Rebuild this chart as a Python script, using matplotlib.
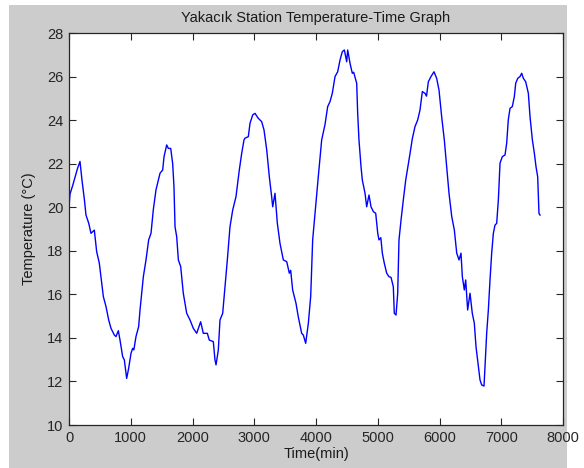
import matplotlib
matplotlib.use("Agg")
import matplotlib.pyplot as plt
from matplotlib.patches import Rectangle

# time (min) and temperature (degC)
time_min = [0, 16, 60, 100, 140, 178, 210, 250, 275, 320, 356, 410, 448, 491, 518,
            556, 600, 643, 680, 734, 761, 799, 826, 869, 896, 934, 966, 1004, 1031,
            1050, 1085, 1128, 1150, 1204, 1247, 1290, 1328, 1366, 1409, 1474, 1517,
            1539, 1582, 1609, 1647, 1679, 1700, 1717, 1744, 1771, 1809, 1851, 1906,
            1960, 2013, 2068, 2132, 2175, 2240, 2272, 2337, 2364, 2381, 2418, 2445,
            2489, 2526, 2564, 2607, 2651, 2704, 2758, 2797, 2834, 2850, 2904, 2931,
            2975, 3012, 3066, 3120, 3158, 3202, 3244, 3282, 3299, 3336, 3374, 3417,
            3471, 3526, 3568, 3590, 3622, 3676, 3713, 3768, 3795, 3833, 3876, 3914,
            3946, 3984, 4037, 4092, 4146, 4189, 4227, 4264, 4308, 4351, 4389, 4426,
            4459, 4497, 4513, 4551, 4588, 4610, 4659, 4675, 4696, 4729, 4750, 4794,
            4821, 4858, 4891, 4929, 4967, 5000, 5020, 5050, 5074, 5106, 5145, 5182,
            5215, 5252, 5268, 5296, 5323, 5344, 5377, 5414, 5453, 5485, 5522, 5560,
            5603, 5647, 5684, 5722, 5765, 5790, 5819, 5862, 5911, 5954, 5992, 6035,
            6078, 6117, 6154, 6198, 6240, 6279, 6316, 6348, 6370, 6402, 6424, 6456,
            6494, 6531, 6564, 6591, 6629, 6656, 6683, 6721, 6737, 6764, 6791, 6818,
            6845, 6872, 6899, 6926, 6953, 6980, 7017, 7061, 7088, 7114, 7142, 7179,
            7212, 7234, 7267, 7304, 7331, 7358, 7396, 7439, 7466, 7504, 7536, 7563,
            7590, 7611, 7628]
temp_c = [20.0, 20.6, 21.0, 21.4, 21.8, 22.1, 21.25, 20.33, 19.64, 19.26, 18.8, 18.95,
          17.96, 17.43, 16.81, 15.9, 15.43, 14.82, 14.44, 14.13, 14.06, 14.33, 13.9,
          13.14, 12.99, 12.14, 12.6, 13.29, 13.52, 13.45, 14.06, 14.52, 15.28, 16.81,
          17.58, 18.5, 18.8, 19.9, 20.8, 21.56, 21.71, 22.32, 22.86, 22.7, 22.7, 22.0,
          20.94, 19.1, 18.65, 17.58, 17.27, 16.05, 15.13, 14.82, 14.44, 14.21, 14.74,
          14.21, 14.21, 13.9, 13.83, 12.99, 12.76, 13.44, 14.82, 15.13, 16.35, 17.58,
          19.1, 19.87, 20.48, 21.71, 22.48, 23.09, 23.17, 23.24, 23.85, 24.24, 24.31,
          24.08, 23.93, 23.55, 22.63, 21.4, 20.48, 20.02, 20.64, 19.26, 18.34, 17.58,
          17.5, 16.97, 17.1, 16.2, 15.59, 14.97, 14.21, 14.13, 13.75, 14.67, 15.9,
          18.5, 19.72, 21.4, 23.09, 23.8, 24.62, 24.85, 25.23, 26.0, 26.22, 26.76,
          27.14, 27.22, 26.68, 27.22, 26.61, 26.15, 26.2, 25.69, 24.31, 23.09, 21.86,
          21.25, 20.64, 20.02, 20.56, 20.02, 19.8, 19.72, 18.8, 18.5, 18.6, 17.89,
          17.43, 16.97, 16.81, 16.78, 16.35, 15.13, 15.05, 16.05, 18.5, 19.41, 20.33,
          21.25, 21.8, 22.45, 23.15, 23.7, 24.01, 24.46, 25.31, 25.23, 25.1, 25.76,
          26.0, 26.22, 25.92, 25.38, 24.16, 23.09, 21.86, 20.64, 19.57, 18.96, 17.89,
          17.58, 17.89, 16.81, 16.2, 16.66, 15.28, 16.05, 15.13, 14.67, 13.6, 12.68,
          12.07, 11.84, 11.79, 12.68, 14.21, 15.28, 16.66, 17.89, 18.8, 19.18, 19.26,
          20.33, 22.02, 22.32, 22.4, 22.94, 24.01, 24.54, 24.62, 25.08, 25.69, 25.92,
          26.0, 26.15, 25.92, 25.76, 25.23, 24.16, 23.09, 22.48, 21.86, 21.4, 19.72,
          19.64]

x_ticks = [0, 1000, 2000, 3000, 4000, 5000, 6000, 7000, 8000]
y_ticks = [10, 12, 14, 16, 18, 20, 22, 24, 26, 28]

plt.rcParams['font.family'] = ['Liberation Sans', 'DejaVu Sans']

fig = plt.figure(figsize=(5.84, 4.68), dpi=100, facecolor='white')
# grey window area, white strip at top/left like the screenshot
fig.patches.append(Rectangle((9 / 584, 0), (567 - 9) / 584, 463 / 468,
                             transform=fig.transFigure, facecolor='#cccccc',
                             edgecolor='none', zorder=-10))

ax = fig.add_axes([69 / 584, 1 - 425 / 468, (563 - 69) / 584, (425 - 33) / 468])
ax.plot(time_min, temp_c, color='#0000ff', linewidth=1.0)

ax.set_xlim(0, 8000)
ax.set_ylim(10, 28)
ax.set_xticks(x_ticks)
ax.set_yticks(y_ticks)
ax.tick_params(direction='in', length=5, width=0.8, top=True, right=True,
               labelsize=10.5, colors='#262626', pad=4)
for s in ax.spines.values():
    s.set_linewidth(0.9)
    s.set_color('#262626')

ax.set_title('Yakacık Station Temperature-Time Graph', fontsize=10.5, pad=8,
             color='#1a1a1a')
ax.set_xlabel('Time(min)', fontsize=10.5, labelpad=2, color='#1a1a1a')
ax.set_ylabel('Temperature (°C)', fontsize=10.5, labelpad=8, color='#1a1a1a')

fig.savefig('out.png', dpi=100, facecolor=fig.get_facecolor())
